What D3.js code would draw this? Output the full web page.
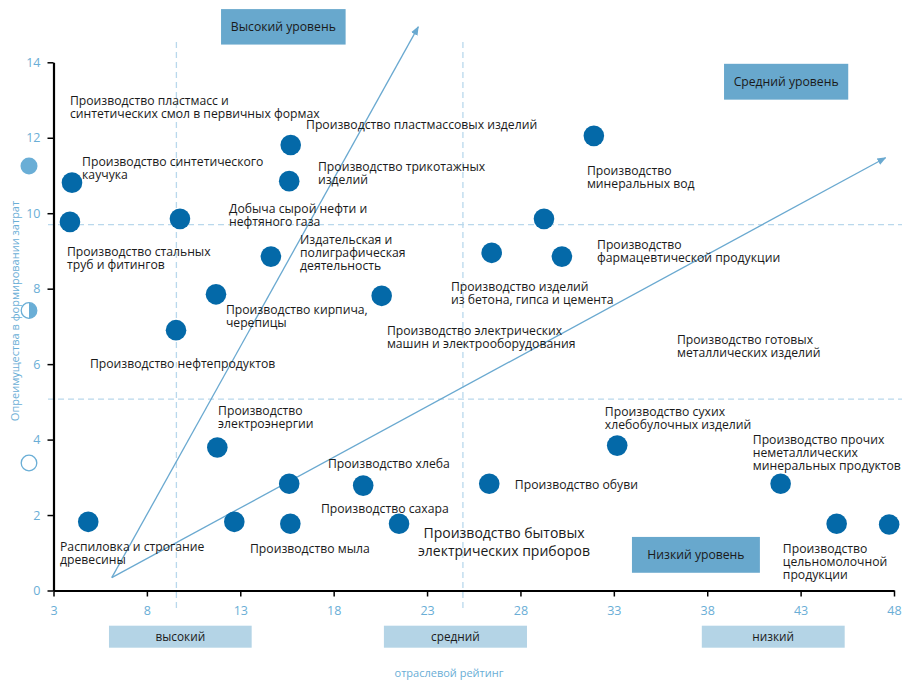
<!DOCTYPE html>
<html><head><meta charset="utf-8">
<script src="https://cdn.jsdelivr.net/npm/d3@7/dist/d3.min.js"></script>
<style>body{margin:0;background:#fff}svg{display:block;font-family:"Open Sans",sans-serif}</style>
</head><body><svg id="c" width="902" height="680"></svg>
<script>
// ---- data ----
const xTicks = [3, 8, 13, 18, 23, 28, 33, 38, 43, 48];
const yTicks = [0, 2, 4, 6, 8, 10, 12, 14];
const pointX = [3.99, 3.88, 9.77, 15.70, 15.62, 31.93, 29.26, 14.64, 11.70, 9.56, 20.57, 26.46, 30.22,
                33.18, 11.77, 15.62, 19.58, 4.86, 12.68, 15.68, 21.50, 26.33, 41.93, 44.93, 47.74];
const pointY = [10.81, 9.77, 9.85, 11.81, 10.85, 12.05, 9.85, 8.85, 7.85, 6.90, 7.81, 8.95, 8.85,
                3.84, 3.79, 2.83, 2.78, 1.82, 1.82, 1.77, 1.77, 2.83, 2.83, 1.77, 1.75];
const labelText = [
  ["Производство пластмасс и", "синтетических смол в первичных формах"],
  ["Производство пластмассовых изделий"],
  ["Производство синтетического", "каучука"],
  ["Производство трикотажных", "изделий"],
  ["Производство", "минеральных вод"],
  ["Добыча сырой нефти и", "нефтяного газа"],
  ["Издательская и", "полиграфическая", "деятельность"],
  ["Производство стальных", "труб и фитингов"],
  ["Производство", "фармацевтической продукции"],
  ["Производство изделий", "из бетона, гипса и цемента"],
  ["Производство кирпича,", "черепицы"],
  ["Производство электрических", "машин и электрооборудования"],
  ["Производство готовых", "металлических изделий"],
  ["Производство нефтепродуктов"],
  ["Производство", "электроэнергии"],
  ["Производство сухих", "хлебобулочных изделий"],
  ["Производство прочих", "неметаллических", "минеральных продуктов"],
  ["Производство хлеба"],
  ["Производство обуви"],
  ["Производство сахара"],
  ["Распиловка и строгание", "древесины"],
  ["Производство мыла"],
  ["Производство", "цельномолочной", "продукции"]
];
const labelX = [3.88, 16.52, 4.53, 17.16, 31.56, 12.40, 16.20, 3.72, 32.10, 24.28, 12.23, 20.85, 36.38,
                4.95, 11.81, 32.52, 40.44, 17.69, 27.70, 17.32, 3.35, 13.52, 42.05];
const labelY = [12.97, 12.34, 11.36, 11.22, 11.14, 10.11, 9.29, 8.97, 9.16, 8.04, 7.43, 6.88, 6.64,
                6.00, 4.76, 4.73, 3.99, 3.36, 2.80, 2.16, 1.15, 1.10, 1.10];
const bigLabel = ["Производство бытовых", "электрических приборов"];
const bigLabelPos = [27.12, 1.52];
const levelBoxes = ["Высокий уровень", "Средний уровень", "Низкий уровень"];
const levelBoxX = [[11.97, 18.64], [38.9, 45.55], [33.97, 40.82]];
const levelBoxY = [[15.41, 14.47], [13.96, 13.01], [1.42, 0.47]];
const ratingBoxes = ["высокий", "средний", "низкий"];
const ratingBoxX = [[5.97, 13.61], [20.69, 28.35], [37.71, 45.36]];
const dashX = [9.58, 24.92];
const dashY = [9.7, 5.07];
const arrowStart = [6.12, 0.34];
const arrowEnds = [[22.53, 14.94], [47.55, 11.47]];
const xTitle = "отраслевой рейтинг";
const yTitle = "Опреимущества в формировании затрат";

// ---- drawing ----
const svg = d3.select("#c");
const x = d3.scaleLinear().domain([3, 48]).range([53.5, 894]);
const y = d3.scaleLinear().domain([0, 14]).range([590.5, 62.3]);
const tickCol = "#6aaed6", lineCol = "#6aa9d0", dot = "#0469a8";
const fs = 12.2;

// dashed guides
svg.selectAll(".vd").data(dashX).join("line")
  .attr("x1", d => x(d)).attr("x2", d => x(d)).attr("y1", 42).attr("y2", 608)
  .attr("stroke", "#b9d8ec").attr("stroke-width", 1.3).attr("stroke-dasharray", "6,4");
svg.selectAll(".hd").data(dashY).join("line")
  .attr("x1", 48).attr("x2", 902).attr("y1", d => y(d)).attr("y2", d => y(d))
  .attr("stroke", "#b9d8ec").attr("stroke-width", 1.3).attr("stroke-dasharray", "6,4");

// arrows
const defs = svg.append("defs");
defs.append("marker").attr("id", "ah").attr("viewBox", "0 0 10 10").attr("refX", 9).attr("refY", 5)
  .attr("markerWidth", 7).attr("markerHeight", 7).attr("orient", "auto")
  .append("path").attr("d", "M0,1 L10,5 L0,9 Z").attr("fill", lineCol);
svg.selectAll(".arr").data(arrowEnds).join("line")
  .attr("x1", x(arrowStart[0])).attr("y1", y(arrowStart[1]))
  .attr("x2", d => x(d[0])).attr("y2", d => y(d[1]))
  .attr("stroke", lineCol).attr("stroke-width", 1.3).attr("marker-end", "url(#ah)");

// axes
const xAxis = svg.append("g").attr("transform", `translate(0,${y(0)})`)
  .call(d3.axisBottom(x).tickValues(xTicks).tickSize(6).tickSizeOuter(0));
const yAxis = svg.append("g").attr("transform", `translate(${x(3)},0)`)
  .call(d3.axisLeft(y).tickValues(yTicks).tickSize(6).tickSizeOuter(0));
[xAxis, yAxis].forEach(g => {
  g.select(".domain").attr("stroke", "#000").attr("stroke-width", 2.2);
  g.selectAll(".tick line").attr("stroke", "#000").attr("stroke-width", 1.5);
  g.selectAll(".tick text").attr("fill", tickCol).attr("font-size", 12.5)
    .attr("font-family", "Open Sans, sans-serif");
});
xAxis.selectAll(".tick text").attr("dy", "1.25em");
yAxis.selectAll(".tick text").attr("x", -13);

// points
svg.selectAll(".pt").data(pointX).join("circle")
  .attr("cx", d => x(d)).attr("cy", (d, i) => y(pointY[i])).attr("r", 10.3).attr("fill", dot);

// labels
labelText.forEach((lines, i) => {
  const t = svg.append("text").attr("font-size", fs).attr("fill", "#1a1a1a");
  lines.forEach((ln, j) => t.append("tspan").attr("x", x(labelX[i]))
    .attr("y", y(labelY[i]) + 4.3 + j * 13).text(ln));
});
const bt = svg.append("text").attr("font-size", 14).attr("fill", "#1a1a1a").attr("text-anchor", "middle");
bigLabel.forEach((ln, j) => bt.append("tspan").attr("x", x(bigLabelPos[0]))
  .attr("y", y(bigLabelPos[1]) + 5 + j * 18.3).text(ln));

// level boxes
levelBoxes.forEach((s, i) => {
  const x0 = x(levelBoxX[i][0]), x1 = x(levelBoxX[i][1]);
  const y0 = y(levelBoxY[i][0]), y1 = y(levelBoxY[i][1]);
  svg.append("rect").attr("x", x0).attr("y", y0).attr("width", x1 - x0).attr("height", y1 - y0)
    .attr("fill", "#68a8cd");
  svg.append("text").attr("x", (x0 + x1) / 2).attr("y", (y0 + y1) / 2 + 4.3)
    .attr("text-anchor", "middle").attr("font-size", fs).attr("fill", "#1a1a1a").text(s);
});
// rating boxes
ratingBoxes.forEach((s, i) => {
  const x0 = x(ratingBoxX[i][0]), x1 = x(ratingBoxX[i][1]);
  svg.append("rect").attr("x", x0).attr("y", 625.7).attr("width", x1 - x0).attr("height", 22)
    .attr("fill", "#b4d4e6");
  svg.append("text").attr("x", (x0 + x1) / 2).attr("y", 641).attr("text-anchor", "middle")
    .attr("font-size", 11.8).attr("fill", "#1a1a1a").text(s);
});

// axis titles
svg.append("text").attr("x", 449).attr("y", 677).attr("text-anchor", "middle")
  .attr("font-size", 11).attr("fill", tickCol).text(xTitle);
svg.append("text").attr("transform", "translate(19,311) rotate(-90)").attr("text-anchor", "middle")
  .attr("font-size", 11).attr("fill", tickCol).text(yTitle);

// legend symbols on the y axis side
const lc = "#6aaed6";
svg.append("circle").attr("cx", 29).attr("cy", 166).attr("r", 8.5).attr("fill", lc);
svg.append("circle").attr("cx", 29).attr("cy", 310.5).attr("r", 7.8).attr("fill", "#fff").attr("stroke", lc).attr("stroke-width", 1.3);
svg.append("path").attr("d", d3.arc()({innerRadius: 0, outerRadius: 7.8, startAngle: 0, endAngle: Math.PI}))
  .attr("transform", "translate(29,310.5)").attr("fill", lc);
svg.append("circle").attr("cx", 29).attr("cy", 463).attr("r", 7.8).attr("fill", "#fff").attr("stroke", lc).attr("stroke-width", 1.3);
</script></body></html>
